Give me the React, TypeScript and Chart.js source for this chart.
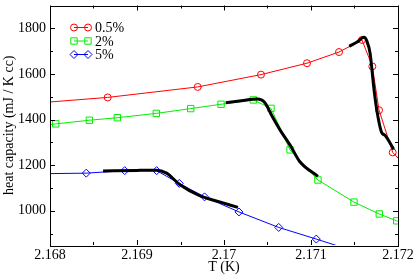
import React, { useEffect, useRef } from "react";
import { Chart, registerables } from "chart.js";

Chart.register(...registerables);

// 0.5% data (red circles)
const redT = [2.1676, 2.168663, 2.169698, 2.170425, 2.170954, 2.171322, 2.171586, 2.171705, 2.171782, 2.171939, 2.1722];
const redC = [1465, 1497, 1543, 1597, 1647, 1696, 1749, 1633, 1441, 1256, 1150];
// 2% data (green squares)
const greenT = [2.1678, 2.168066, 2.168452, 2.168774, 2.169222, 2.169617, 2.169966, 2.170337, 2.17054, 2.170759, 2.17108, 2.171494, 2.171785, 2.171985, 2.1722];
const greenC = [1370, 1381, 1397, 1408, 1427, 1448, 1467, 1486, 1449, 1267, 1135, 1038, 986, 956, 930];
// 5% data (blue diamonds)
const blueT = [2.1678, 2.168417, 2.168859, 2.169226, 2.169486, 2.169776, 2.170172, 2.170629, 2.171061, 2.1716];
const blueC = [1162, 1165, 1176, 1176, 1120, 1061, 995, 927, 876, 810];

// fit curves (black)
const fitBlueT = [2.16861, 2.1690, 2.16922, 2.16934, 2.16949, 2.16972, 2.16994, 2.17016];
const fitBlueC = [1174, 1177, 1178, 1165, 1115, 1066, 1040, 1015];
const fitGreenT = [2.17002, 2.1702, 2.17038, 2.17047, 2.17055, 2.17066, 2.17076, 2.17087, 2.17108];
const fitGreenC = [1474, 1482, 1490, 1474, 1417, 1345, 1288, 1216, 1151];
const fitRedT = [2.17144, 2.17153, 2.17161, 2.17164, 2.17168, 2.17172, 2.171755, 2.17181, 2.17185, 2.17195];
const fitRedC = [1721, 1740, 1761, 1746, 1689, 1546, 1445, 1345, 1331, 1270];

const xTicks = [2.168, 2.169, 2.17, 2.171, 2.172];
const yTicks = [1000, 1200, 1400, 1600, 1800];
const seriesNames = ["0.5%", "2%", "5%"];
const seriesColors = ["#ff0000", "#00ee00", "#0000ff"];
const seriesShapes = ["circle", "rect", "rectRot"];

const FONT = "'Liberation Serif', 'Times New Roman', serif";

const zip = (xs: number[], ys: number[]) => xs.map((x, i) => ({ x, y: ys[i] }));

function drawMarker(ctx: CanvasRenderingContext2D, shape: string, x: number, y: number) {
  ctx.beginPath();
  if (shape === "circle") {
    ctx.arc(x, y, 3.5, 0, Math.PI * 2);
  } else if (shape === "rect") {
    ctx.rect(x - 3.2, y - 3.2, 6.4, 6.4);
  } else {
    ctx.moveTo(x, y - 4);
    ctx.lineTo(x + 4, y);
    ctx.lineTo(x, y + 4);
    ctx.lineTo(x - 4, y);
    ctx.closePath();
  }
  ctx.stroke();
}

const framePlugin = {
  id: "frameTicks",
  afterDraw(chart: any) {
    const { ctx, chartArea: a, scales } = chart;
    const xs = scales.x;
    const ys = scales.y;
    ctx.save();
    ctx.strokeStyle = "#000";
    ctx.lineWidth = 1;
    ctx.strokeRect(Math.round(a.left) + 0.5, Math.round(a.top) + 0.5, Math.round(a.right - a.left), Math.round(a.bottom - a.top));
    ctx.beginPath();
    for (let i = 0; i < xTicks.length; i++) {
      const px = Math.round(xs.getPixelForValue(xTicks[i])) + 0.5;
      ctx.moveTo(px, a.bottom); ctx.lineTo(px, a.bottom - 5);
      ctx.moveTo(px, a.top); ctx.lineTo(px, a.top + 5);
      if (i < xTicks.length - 1) {
        const m = Math.round(xs.getPixelForValue((xTicks[i] + xTicks[i + 1]) / 2)) + 0.5;
        ctx.moveTo(m, a.bottom); ctx.lineTo(m, a.bottom - 3);
        ctx.moveTo(m, a.top); ctx.lineTo(m, a.top + 3);
      }
    }
    const yMinor = [900, 1100, 1300, 1500, 1700, 1900];
    for (const v of yTicks) {
      const py = Math.round(ys.getPixelForValue(v)) + 0.5;
      ctx.moveTo(a.left, py); ctx.lineTo(a.left + 5, py);
      ctx.moveTo(a.right, py); ctx.lineTo(a.right - 5, py);
    }
    for (const v of yMinor) {
      const py = Math.round(ys.getPixelForValue(v)) + 0.5;
      ctx.moveTo(a.left, py); ctx.lineTo(a.left + 3, py);
      ctx.moveTo(a.right, py); ctx.lineTo(a.right - 3, py);
    }
    ctx.stroke();

    // legend
    const rows = [27.5, 41, 54.5];
    ctx.font = `14px ${FONT}`;
    ctx.textBaseline = "middle";
    ctx.textAlign = "left";
    for (let i = 0; i < seriesNames.length; i++) {
      const y = rows[i];
      ctx.strokeStyle = seriesColors[i];
      ctx.lineWidth = 1;
      ctx.beginPath();
      ctx.moveTo(74, y); ctx.lineTo(88, y);
      ctx.stroke();
      drawMarker(ctx, seriesShapes[i], 74, y);
      drawMarker(ctx, seriesShapes[i], 88, y);
      ctx.fillStyle = "#000";
      ctx.fillText(seriesNames[i], 95, y + 1);
    }
    ctx.restore();
  },
};

export default function App() {
  const ref = useRef<HTMLCanvasElement | null>(null);
  useEffect(() => {
    if (!ref.current) return;
    const mk = (t: number[], c: number[], i: number) => ({
      label: seriesNames[i],
      data: zip(t, c),
      showLine: true,
      borderColor: seriesColors[i],
      backgroundColor: "rgba(0,0,0,0)",
      borderWidth: 1,
      pointStyle: seriesShapes[i],
      pointRadius: i === 0 ? 3.5 : i === 1 ? 4.5 : 4,
      pointBorderWidth: 1,
      pointBorderColor: seriesColors[i],
      pointBackgroundColor: "rgba(0,0,0,0)",
      tension: 0,
      order: 2,
    });
    const fit = (t: number[], c: number[]) => ({
      label: "fit",
      data: zip(t, c),
      showLine: true,
      borderColor: "#000",
      borderWidth: 3,
      pointRadius: 0,
      cubicInterpolationMode: "monotone",
      order: 1,
    });
    const chart = new Chart(ref.current, {
      type: "scatter",
      data: {
        datasets: [
          mk(redT, redC, 0),
          mk(greenT, greenC, 1),
          mk(blueT, blueC, 2),
          fit(fitBlueT, fitBlueC),
          fit(fitGreenT, fitGreenC),
          fit(fitRedT, fitRedC),
        ] as any,
      },
      options: {
        animation: false,
        responsive: false,
        maintainAspectRatio: false,
        layout: { padding: { top: 1, right: 17, left: 0, bottom: 0 } },
        plugins: { legend: { display: false }, tooltip: { enabled: false } },
        scales: {
          x: {
            type: "linear",
            min: 2.168,
            max: 2.172,
            afterBuildTicks: (s: any) => { s.ticks = xTicks.map((v) => ({ value: v })); },
            afterFit: (s: any) => { s.height = 31; s.paddingLeft = 0; s.paddingRight = 0; },
            grid: { display: false, drawTicks: false },
            border: { display: false },
            ticks: {
              color: "#000",
              padding: 2,
              maxRotation: 0,
              font: { family: FONT, size: 14 },
              callback: (v: any) => String(Number(Number(v).toFixed(3))),
            },
            title: { display: true, text: "T (K)", color: "#000", padding: 0, font: { family: FONT, size: 14 } },
          },
          y: {
            type: "linear",
            min: 850,
            max: 1900,
            afterBuildTicks: (s: any) => { s.ticks = yTicks.map((v) => ({ value: v })); },
            afterFit: (s: any) => { s.width = 50; s.paddingTop = 0; s.paddingBottom = 0; },
            grid: { display: false, drawTicks: false },
            border: { display: false },
            ticks: {
              color: "#000",
              padding: 4,
              font: { family: FONT, size: 14 },
              callback: (v: any) => String(v),
            },
            title: { display: true, text: "heat capacity (mJ / K cc)", color: "#000", padding: { top: 1, bottom: 0 }, font: { family: FONT, size: 14 } },
          },
        },
      },
      plugins: [framePlugin],
    });
    return () => chart.destroy();
  }, []);
  return (
    <div style={{ position: "absolute", left: 0, top: 0, width: 415, height: 276, background: "#fff" }}>
      <canvas ref={ref} width={415} height={276} style={{ display: "block" }} />
    </div>
  );
}
